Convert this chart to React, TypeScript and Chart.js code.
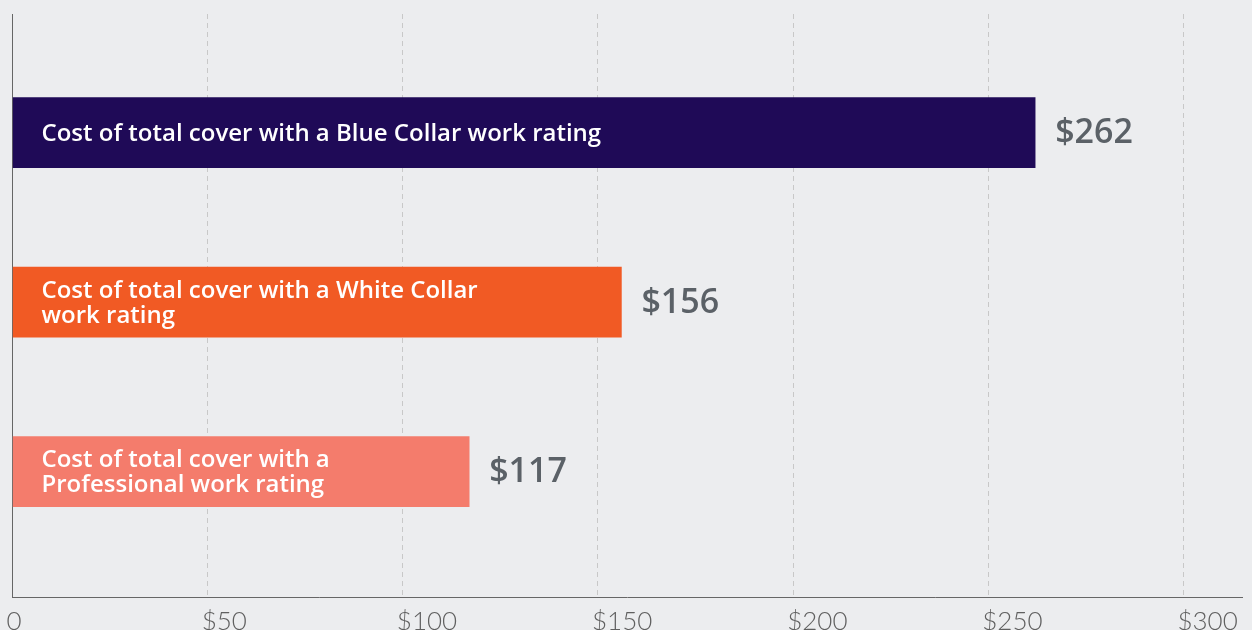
import React, { useEffect, useRef } from "react";
import { Chart, registerables } from "chart.js";

Chart.register(...registerables);

const categoryLines: string[][] = [
  ["Cost of total cover with a Blue Collar work rating"],
  ["Cost of total cover with a White Collar", "work rating"],
  ["Cost of total cover with a", "Professional work rating"],
];
const values: number[] = [262, 156, 117];
const positions: number[] = [1, 2, 3];
const barColors: string[] = ["#1f0a57", "#f15a24", "#f47c6c"];
const xTickValues: number[] = [0, 50, 100, 150, 200, 250, 300];
const xTickLabels: string[] = ["0", "$50", "$100", "$150", "$200", "$250", "$300"];
const valueLabels: string[] = ["$262", "$156", "$117"];

const W = 1252;
const H = 630;

const labelPlugin = {
  id: "barLabels",
  afterDatasetsDraw(chart: any) {
    const { ctx, chartArea } = chart;
    const meta = chart.getDatasetMeta(0);
    ctx.save();
    meta.data.forEach((bar: any, i: number) => {
      const lines = categoryLines[i];
      const lh = 25;
      const capH = 17;
      ctx.fillStyle = "#ffffff";
      ctx.font = "600 24px 'Open Sans'";
      ctx.textAlign = "left";
      ctx.textBaseline = "alphabetic";
      const firstBase = bar.y + capH / 2 - ((lines.length - 1) * lh) / 2 - 0.5;
      lines.forEach((ln, j) => {
        ctx.fillText(ln, chartArea.left + 29, firstBase + j * lh);
      });
      ctx.fillStyle = "#5b6167";
      ctx.font = "600 34px 'Open Sans'";
      ctx.textBaseline = "middle";
      ctx.fillText(valueLabels[i], bar.x + 20, bar.y + 1);
    });
    ctx.restore();
  },
};

export default function App() {
  const ref = useRef<HTMLCanvasElement | null>(null);
  useEffect(() => {
    document.body.style.margin = "0";
    const canvas = ref.current;
    if (!canvas) return;
    const chart = new Chart(canvas, {
      type: "bar",
      data: {
        datasets: [
          {
            data: values.map((v, i) => ({ x: v, y: positions[i] })),
            backgroundColor: barColors,
            borderWidth: 0,
            barThickness: 70,
          } as any,
        ],
      },
      options: {
        indexAxis: "y",
        animation: false,
        responsive: false,
        maintainAspectRatio: false,
        layout: { padding: { top: 14, right: 10, left: 0, bottom: 0 } },
        plugins: { legend: { display: false }, tooltip: { enabled: false } },
        scales: {
          x: {
            type: "linear",
            min: 0,
            max: 315,
            afterBuildTicks: (scale: any) => {
              scale.ticks = xTickValues.map((v) => ({ value: v }));
            },
            afterFit: (scale: any) => {
              scale.height = 33;
              scale.paddingLeft = 0;
              scale.paddingRight = 0;
            },
            ticks: {
              align: "start",
              labelOffset: -6,
              padding: 9,
              color: "#606060",
              font: { family: "Lato", size: 26, weight: "300" as any },
              callback: (v: any) => {
                const idx = xTickValues.indexOf(Number(v));
                return idx >= 0 ? xTickLabels[idx] : "";
              },
            },
            grid: {
              display: true,
              drawTicks: false,
              color: (c: any) => (c.tick && c.tick.value === 0 ? "rgba(0,0,0,0)" : "#c8c8c8"),
              lineWidth: 1,
            },
            border: { display: true, color: "#666666", width: 1, dash: [5, 4] },
          },
          y: {
            type: "linear",
            reverse: true,
            offset: false,
            min: 0.3,
            max: 3.74,
            afterFit: (scale: any) => {
              scale.width = 12.5;
              scale.paddingTop = 0;
              scale.paddingBottom = 0;
            },
            ticks: { display: false },
            grid: { display: false, offset: false },
            border: { display: true, color: "#666666", width: 1 },
          },
        },
      },
      plugins: [labelPlugin],
    });
    return () => chart.destroy();
  }, []);
  return (
    <div style={{ position: "fixed", left: 0, top: 0, width: W, height: H, background: "#ecedef" }}>
      <canvas ref={ref} width={W} height={H} style={{ display: "block" }} />
    </div>
  );
}
